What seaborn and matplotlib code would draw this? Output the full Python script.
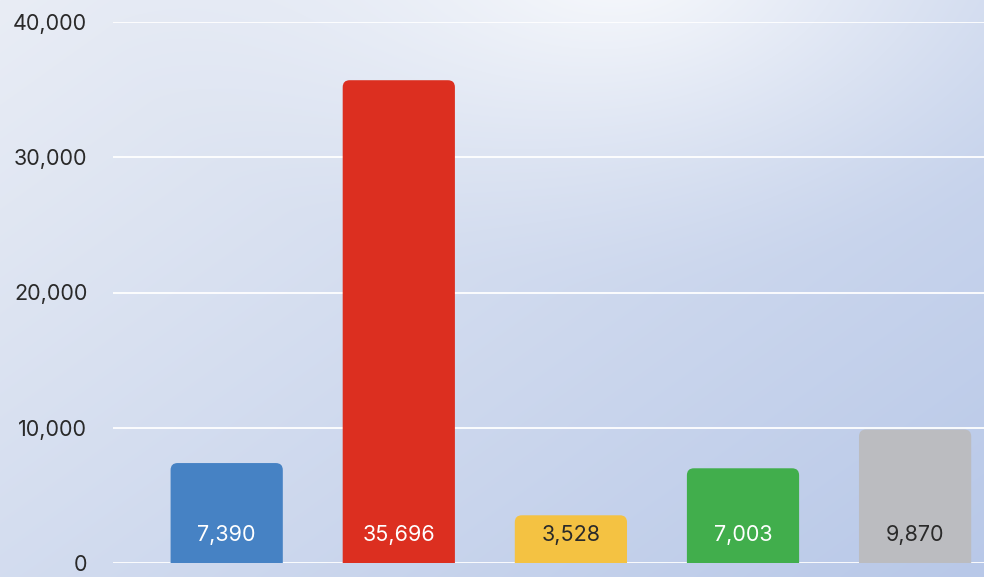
import numpy as np
import pandas as pd
import matplotlib
matplotlib.use("Agg")
import matplotlib.pyplot as plt
from matplotlib.patches import FancyBboxPatch
from matplotlib.colors import to_rgb
import seaborn as sns

# ---- data ----
categories = ["Category 1", "Category 2", "Category 3", "Category 4", "Category 5"]
values = [7390, 35696, 3528, 7003, 9870]
value_labels = ["7,390", "35,696", "3,528", "7,003", "9,870"]
bar_colors = ["#4682c4", "#dc2f20", "#f4c242", "#41ae4c", "#bbbcc0"]
label_colors = ["white", "white", "#2a2a2a", "white", "#2a2a2a"]
y_ticks = [0, 10000, 20000, 30000, 40000]
y_ticklabels = ["0", "10,000", "20,000", "30,000", "40,000"]

sns.set_theme(style="white")
plt.rcParams["font.family"] = ["Inter", "DejaVu Sans"]

W, H = 984, 577
fig = plt.figure(figsize=(W / 100, H / 100), dpi=100)

# ---- gradient background ----
bg_ax = fig.add_axes([0, 0, 1, 1], zorder=-10)
yy, xx = np.mgrid[0:H, 0:W]
t = np.clip(0.55 * xx / W + 0.45 * yy / H, 0, 1)
c0 = np.array(to_rgb("#e9edf5"))
c1 = np.array(to_rgb("#b8c8e8"))
img = c0[None, None, :] * (1 - t[..., None]) + c1[None, None, :] * t[..., None]
d = np.sqrt(((xx - 620) / 520.0) ** 2 + ((yy + 40) / 330.0) ** 2)
glow = np.clip(1 - d, 0, 1) ** 1.5
img = img * (1 - 0.85 * glow[..., None]) + 0.85 * glow[..., None] * np.array([1, 1, 1])
bg_ax.imshow(img, aspect="auto", extent=[0, 1, 0, 1], origin="upper")
bg_ax.axis("off")

# ---- main axes ----
left, right = 113 / W, 984 / W
bottom, top = 1 - 563 / H, 1 - 22 / H
ax = fig.add_axes([left, bottom, right - left, top - bottom])
ax.patch.set_alpha(0)

df = pd.DataFrame({"category": categories, "value": values})
sns.barplot(data=df, x="category", y="value", hue="category",
            palette=bar_colors, legend=False, ax=ax, width=0.652,
            saturation=1, zorder=3)

x_px = 172.1
x_c0 = 226.7
ax.set_xlim((113 - x_c0) / x_px, (984 - x_c0) / x_px)
ax.set_ylim(0, 40000)

# rounded tops
y_units_per_px = 40000 / 541
x_units_per_px = 1 / x_px
aspect = y_units_per_px / x_units_per_px
r = 7 * x_units_per_px
for p, col in zip(list(ax.patches), bar_colors):
    x0, w, h = p.get_x(), p.get_width(), p.get_height()
    p.remove()
    fb = FancyBboxPatch((x0, -600), w, h + 600,
                        boxstyle=f"round,pad=0,rounding_size={r}",
                        mutation_aspect=aspect, facecolor=col,
                        edgecolor="none", zorder=3)
    ax.add_patch(fb)

for i, (lab, lc) in enumerate(zip(value_labels, label_colors)):
    ax.text(i, 2070, lab, ha="center", va="center", color=lc,
            fontsize=15.5, zorder=5)

ax.set_yticks(y_ticks)
ax.set_yticklabels(y_ticklabels)
ax.tick_params(axis="y", length=0, pad=18.5, labelsize=15.5, labelcolor="#2a2a2a")
for lbl in ax.get_yticklabels():
    lbl.set_horizontalalignment("right")
ax.set_xticks([])
ax.set_xlabel("")
ax.set_ylabel("")
ax.grid(axis="y", color="white", linewidth=1.3, zorder=1)
ax.set_axisbelow(True)
for s in ax.spines.values():
    s.set_visible(False)

fig.savefig("out.png", dpi=100)
